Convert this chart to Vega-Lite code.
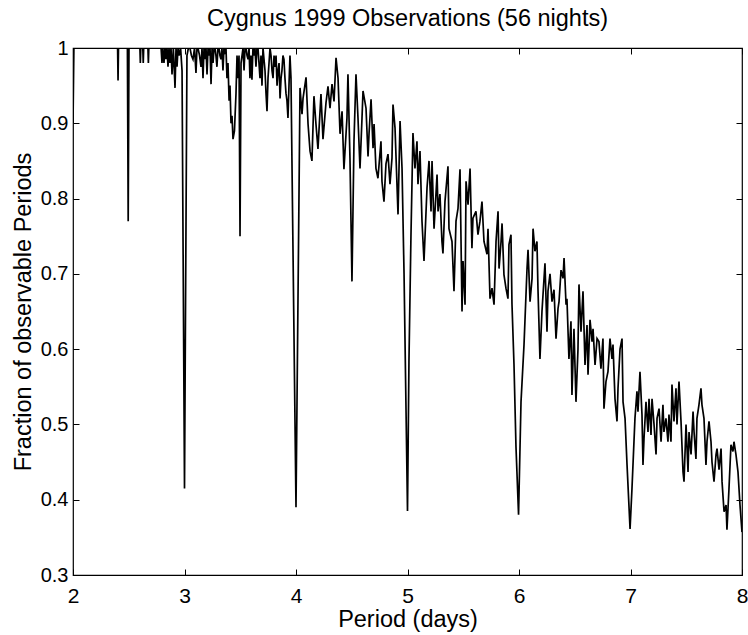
{
  "$schema": "https://vega.github.io/schema/vega-lite/v6.json",
  "width": 669,
  "height": 527,
  "autosize": {"type": "none"},
  "padding": {"left": 73, "top": 48, "right": 6, "bottom": 60},
  "background": "white",
  "config": {
    "view": {"stroke": "black", "strokeWidth": 1.2},
    "font": "Liberation Sans"
  },
  "title": {"text": "Cygnus 1999 Observations (56 nights)", "font": "Liberation Sans", "fontSize": 23.5, "fontWeight": "normal", "color": "black", "offset": 8},
  "data": {"values": [
    {"p":2.000,"f":0.90},{"p":2.008,"f":1.0},{"p":2.400,"f":1.0},{"p":2.404,"f":0.957},{"p":2.408,"f":1.0},
    {"p":2.488,"f":1.0},{"p":2.495,"f":0.77},{"p":2.502,"f":1.0},
    {"p":2.600,"f":1.0},{"p":2.604,"f":0.98},{"p":2.608,"f":1.0},
    {"p":2.626,"f":1.0},{"p":2.630,"f":0.98},{"p":2.634,"f":1.0},
    {"p":2.672,"f":1.0},{"p":2.676,"f":0.98},{"p":2.680,"f":1.0},
    {"p":2.790,"f":1.0},{"p":2.798,"f":0.98},{"p":2.806,"f":1.0},{"p":2.816,"f":0.98},{"p":2.825,"f":1.0},
    {"p":2.834,"f":0.985},{"p":2.843,"f":1.0},{"p":2.852,"f":0.975},{"p":2.861,"f":1.0},{"p":2.870,"f":0.98},
    {"p":2.879,"f":1.0},{"p":2.888,"f":0.965},{"p":2.900,"f":1.0},{"p":2.915,"f":0.947},{"p":2.924,"f":1.0},
    {"p":2.933,"f":0.975},{"p":2.942,"f":1.0},{"p":2.951,"f":0.99},{"p":2.965,"f":1.0},{"p":2.978,"f":0.97},
    {"p":3.000,"f":0.415},{"p":3.022,"f":0.99},{"p":3.035,"f":1.0},{"p":3.049,"f":1.0},{"p":3.062,"f":0.99},
    {"p":3.076,"f":0.985},{"p":3.090,"f":1.0},{"p":3.103,"f":0.967},{"p":3.112,"f":1.0},{"p":3.121,"f":1.0},
    {"p":3.135,"f":0.99},{"p":3.148,"f":0.975},{"p":3.157,"f":1.0},{"p":3.166,"f":0.96},{"p":3.175,"f":1.0},
    {"p":3.184,"f":0.985},{"p":3.193,"f":1.0},{"p":3.202,"f":0.965},{"p":3.211,"f":1.0},{"p":3.220,"f":0.99},
    {"p":3.229,"f":1.0},{"p":3.238,"f":0.952},{"p":3.247,"f":1.0},{"p":3.256,"f":0.98},{"p":3.265,"f":1.0},
    {"p":3.274,"f":1.0},{"p":3.282,"f":0.99},{"p":3.291,"f":0.975},{"p":3.300,"f":1.0},{"p":3.309,"f":1.0},
    {"p":3.318,"f":0.99},{"p":3.327,"f":0.985},{"p":3.336,"f":1.0},{"p":3.345,"f":0.97},{"p":3.354,"f":1.0},
    {"p":3.363,"f":0.995},{"p":3.372,"f":1.0},{"p":3.381,"f":0.96},{"p":3.390,"f":0.98},{"p":3.400,"f":0.93},
    {"p":3.408,"f":0.95},{"p":3.417,"f":0.90},{"p":3.426,"f":0.91},{"p":3.435,"f":0.879},{"p":3.448,"f":0.89},
    {"p":3.462,"f":0.94},{"p":3.471,"f":0.99},{"p":3.480,"f":0.96},{"p":3.489,"f":0.99},{"p":3.498,"f":0.75},
    {"p":3.507,"f":0.98},{"p":3.516,"f":0.99},{"p":3.525,"f":1.0},{"p":3.534,"f":0.97},{"p":3.543,"f":1.0},
    {"p":3.552,"f":1.0},{"p":3.561,"f":0.99},{"p":3.570,"f":0.985},{"p":3.579,"f":1.0},{"p":3.587,"f":0.96},
    {"p":3.596,"f":0.99},{"p":3.605,"f":0.958},{"p":3.614,"f":1.0},{"p":3.623,"f":0.99},{"p":3.632,"f":1.0},
    {"p":3.641,"f":0.975},{"p":3.650,"f":1.0},{"p":3.659,"f":1.0},{"p":3.668,"f":0.98},{"p":3.677,"f":0.96},
    {"p":3.686,"f":0.99},{"p":3.695,"f":0.95},{"p":3.704,"f":1.0},{"p":3.713,"f":0.985},{"p":3.722,"f":0.97},
    {"p":3.731,"f":0.94},{"p":3.740,"f":0.916},{"p":3.749,"f":0.96},{"p":3.758,"f":0.98},{"p":3.767,"f":1.0},
    {"p":3.776,"f":0.99},{"p":3.785,"f":0.97},{"p":3.794,"f":0.96},{"p":3.803,"f":0.99},{"p":3.812,"f":0.975},
    {"p":3.821,"f":0.99},{"p":3.830,"f":0.95},{"p":3.839,"f":0.97},{"p":3.848,"f":0.98},{"p":3.857,"f":0.933},
    {"p":3.866,"f":0.96},{"p":3.874,"f":0.97},{"p":3.883,"f":0.99},{"p":3.892,"f":0.985},{"p":3.901,"f":0.96},
    {"p":3.910,"f":0.94},{"p":3.919,"f":0.93},{"p":3.928,"f":0.907},{"p":3.937,"f":0.95},{"p":3.946,"f":0.99},
    {"p":3.955,"f":0.96},{"p":4.000,"f":0.39},{"p":4.036,"f":0.947},
    {"p":4.054,"f":0.912},{"p":4.063,"f":0.933},{"p":4.090,"f":0.961},{"p":4.108,"f":0.899},{"p":4.126,"f":0.863},
    {"p":4.143,"f":0.85},{"p":4.161,"f":0.936},{"p":4.179,"f":0.899},{"p":4.197,"f":0.866},{"p":4.224,"f":0.939},
    {"p":4.242,"f":0.879},{"p":4.269,"f":0.927},{"p":4.287,"f":0.949},{"p":4.305,"f":0.92},{"p":4.323,"f":0.952},
    {"p":4.341,"f":0.929},{"p":4.359,"f":0.987},{"p":4.377,"f":0.96},{"p":4.395,"f":0.886},{"p":4.413,"f":0.916},
    {"p":4.430,"f":0.839},{"p":4.457,"f":0.907},{"p":4.466,"f":0.965},{"p":4.484,"f":0.854},{"p":4.502,"f":0.69},
    {"p":4.520,"f":0.876},{"p":4.538,"f":0.965},{"p":4.556,"f":0.907},{"p":4.574,"f":0.84},{"p":4.592,"f":0.907},
    {"p":4.601,"f":0.943},{"p":4.628,"f":0.92},{"p":4.646,"f":0.856},{"p":4.655,"f":0.886},{"p":4.673,"f":0.932},
    {"p":4.691,"f":0.867},{"p":4.700,"f":0.899},{"p":4.717,"f":0.84},{"p":4.735,"f":0.827},{"p":4.762,"f":0.876},
    {"p":4.771,"f":0.823},{"p":4.789,"f":0.796},{"p":4.807,"f":0.846},{"p":4.825,"f":0.859},{"p":4.843,"f":0.819},
    {"p":4.861,"f":0.854},{"p":4.870,"f":0.925},{"p":4.888,"f":0.894},{"p":4.915,"f":0.779},{"p":4.933,"f":0.903},
    {"p":4.951,"f":0.84},{"p":4.969,"f":0.70},{"p":5.000,"f":0.385},{"p":5.013,"f":0.583},{"p":5.031,"f":0.75},
    {"p":5.049,"f":0.887},{"p":5.067,"f":0.84},{"p":5.085,"f":0.876},{"p":5.094,"f":0.819},{"p":5.112,"f":0.863},
    {"p":5.130,"f":0.77},{"p":5.148,"f":0.717},{"p":5.175,"f":0.814},{"p":5.193,"f":0.85},{"p":5.211,"f":0.783},
    {"p":5.220,"f":0.85},{"p":5.238,"f":0.76},{"p":5.265,"f":0.832},{"p":5.274,"f":0.783},{"p":5.291,"f":0.806},
    {"p":5.309,"f":0.743},{"p":5.318,"f":0.727},{"p":5.336,"f":0.796},{"p":5.363,"f":0.843},{"p":5.372,"f":0.76},
    {"p":5.399,"f":0.743},{"p":5.417,"f":0.677},{"p":5.435,"f":0.77},{"p":5.453,"f":0.787},{"p":5.471,"f":0.839},
    {"p":5.489,"f":0.65},{"p":5.498,"f":0.717},{"p":5.516,"f":0.659},{"p":5.525,"f":0.823},{"p":5.543,"f":0.792},
    {"p":5.561,"f":0.84},{"p":5.578,"f":0.734},{"p":5.587,"f":0.774},{"p":5.614,"f":0.783},{"p":5.632,"f":0.752},
    {"p":5.650,"f":0.77},{"p":5.668,"f":0.796},{"p":5.686,"f":0.743},{"p":5.713,"f":0.726},{"p":5.722,"f":0.76},
    {"p":5.740,"f":0.667},{"p":5.758,"f":0.681},{"p":5.776,"f":0.659},{"p":5.794,"f":0.743},{"p":5.812,"f":0.783},
    {"p":5.821,"f":0.707},{"p":5.839,"f":0.743},{"p":5.848,"f":0.767},{"p":5.865,"f":0.699},{"p":5.883,"f":0.681},
    {"p":5.901,"f":0.667},{"p":5.910,"f":0.739},{"p":5.928,"f":0.752},{"p":5.937,"f":0.66},{"p":5.955,"f":0.58},
    {"p":5.973,"f":0.47},{"p":5.996,"f":0.38},{"p":6.018,"f":0.53},{"p":6.045,"f":0.606},{"p":6.072,"f":0.707},
    {"p":6.081,"f":0.732},{"p":6.099,"f":0.663},{"p":6.117,"f":0.694},{"p":6.126,"f":0.76},{"p":6.143,"f":0.73},
    {"p":6.161,"f":0.743},{"p":6.170,"f":0.681},{"p":6.188,"f":0.587},{"p":6.206,"f":0.65},{"p":6.233,"f":0.714},
    {"p":6.251,"f":0.623},{"p":6.260,"f":0.677},{"p":6.278,"f":0.70},{"p":6.296,"f":0.663},{"p":6.314,"f":0.679},
    {"p":6.332,"f":0.614},{"p":6.350,"f":0.654},{"p":6.359,"f":0.663},{"p":6.377,"f":0.705},{"p":6.395,"f":0.694},
    {"p":6.404,"f":0.721},{"p":6.422,"f":0.659},{"p":6.430,"f":0.667},{"p":6.448,"f":0.587},{"p":6.466,"f":0.637},
    {"p":6.475,"f":0.539},{"p":6.493,"f":0.627},{"p":6.511,"f":0.53},{"p":6.529,"f":0.60},{"p":6.538,"f":0.686},
    {"p":6.556,"f":0.623},{"p":6.574,"f":0.677},{"p":6.592,"f":0.579},{"p":6.610,"f":0.632},{"p":6.619,"f":0.566},
    {"p":6.637,"f":0.639},{"p":6.655,"f":0.61},{"p":6.664,"f":0.627},{"p":6.682,"f":0.579},{"p":6.700,"f":0.614},
    {"p":6.717,"f":0.61},{"p":6.735,"f":0.574},{"p":6.753,"f":0.614},{"p":6.762,"f":0.521},{"p":6.780,"f":0.557},
    {"p":6.798,"f":0.57},{"p":6.816,"f":0.614},{"p":6.834,"f":0.587},{"p":6.843,"f":0.606},{"p":6.861,"f":0.534},
    {"p":6.879,"f":0.504},{"p":6.888,"f":0.548},{"p":6.906,"f":0.60},{"p":6.924,"f":0.614},{"p":6.933,"f":0.53},
    {"p":6.951,"f":0.508},{"p":6.969,"f":0.446},{"p":6.996,"f":0.361},{"p":7.013,"f":0.414},{"p":7.040,"f":0.508},
    {"p":7.058,"f":0.544},{"p":7.067,"f":0.517},{"p":7.085,"f":0.57},{"p":7.103,"f":0.513},{"p":7.112,"f":0.446},
    {"p":7.121,"f":0.481},{"p":7.139,"f":0.53},{"p":7.157,"f":0.49},{"p":7.166,"f":0.534},{"p":7.184,"f":0.486},
    {"p":7.193,"f":0.534},{"p":7.211,"f":0.50},{"p":7.229,"f":0.46},{"p":7.238,"f":0.508},{"p":7.256,"f":0.521},
    {"p":7.274,"f":0.477},{"p":7.291,"f":0.526},{"p":7.300,"f":0.49},{"p":7.318,"f":0.508},{"p":7.336,"f":0.477},
    {"p":7.345,"f":0.513},{"p":7.363,"f":0.477},{"p":7.372,"f":0.553},{"p":7.390,"f":0.504},{"p":7.408,"f":0.548},
    {"p":7.417,"f":0.50},{"p":7.435,"f":0.557},{"p":7.453,"f":0.504},{"p":7.471,"f":0.437},{"p":7.480,"f":0.424},
    {"p":7.498,"f":0.50},{"p":7.516,"f":0.437},{"p":7.525,"f":0.49},{"p":7.543,"f":0.46},{"p":7.561,"f":0.517},
    {"p":7.570,"f":0.49},{"p":7.587,"f":0.454},{"p":7.596,"f":0.508},{"p":7.614,"f":0.526},{"p":7.632,"f":0.548},
    {"p":7.641,"f":0.526},{"p":7.659,"f":0.508},{"p":7.677,"f":0.446},{"p":7.686,"f":0.477},{"p":7.704,"f":0.504},
    {"p":7.722,"f":0.477},{"p":7.731,"f":0.45},{"p":7.749,"f":0.424},{"p":7.767,"f":0.46},{"p":7.776,"f":0.468},
    {"p":7.794,"f":0.44},{"p":7.812,"f":0.468},{"p":7.821,"f":0.424},{"p":7.839,"f":0.384},{"p":7.857,"f":0.393},
    {"p":7.865,"f":0.36},{"p":7.883,"f":0.414},{"p":7.901,"f":0.473},{"p":7.919,"f":0.464},{"p":7.928,"f":0.477},
    {"p":7.946,"f":0.46},{"p":7.964,"f":0.437},{"p":7.982,"f":0.393},{"p":8.000,"f":0.357}
  ]},
  "layer": [
    {
      "mark": {"type": "line", "color": "black", "strokeWidth": 1.7, "clip": true},
      "encoding": {
        "x": {"field": "p", "type": "quantitative", "scale": {"domain": [2, 8], "nice": false, "zero": false},
          "axis": {"title": "Period (days)", "values": [2,3,4,5,6,7,8], "format": "d", "grid": false, "domain": false, "labelFlush": false,
            "tickColor": "black", "tickSize": -6, "labelPadding": 16, "labelFont": "Liberation Sans", "labelFontSize": 21, "labelColor": "black",
            "titleFont": "Liberation Sans", "titleFontSize": 23.5, "titleFontWeight": "normal", "titleColor": "black", "titlePadding": 1}},
        "y": {"field": "f", "type": "quantitative", "scale": {"domain": [0.3, 1], "nice": false, "zero": false},
          "axis": {"title": "Fraction of observable Periods", "values": [0.3,0.4,0.5,0.6,0.7,0.8,0.9,1], "format": "~g", "grid": false, "domain": false,
            "tickColor": "black", "tickSize": -6, "labelPadding": 11, "labelFont": "Liberation Sans", "labelFontSize": 20, "labelColor": "black",
            "titleFont": "Liberation Sans", "titleFontSize": 23.5, "titleFontWeight": "normal", "titleColor": "black", "titlePadding": 5}}
      }
    },
    {
      "mark": {"type": "line", "strokeOpacity": 0},
      "encoding": {
        "x": {"field": "p", "type": "quantitative", "scale": {"domain": [2, 8], "nice": false, "zero": false},
          "axis": {"orient": "top", "title": null, "values": [2,3,4,5,6,7,8], "labels": false, "grid": false, "domain": false, "tickColor": "black", "tickSize": -6}},
        "y": {"field": "f", "type": "quantitative", "scale": {"domain": [0.3, 1], "nice": false, "zero": false},
          "axis": {"orient": "right", "title": null, "values": [0.3,0.4,0.5,0.6,0.7,0.8,0.9,1], "labels": false, "grid": false, "domain": false, "tickColor": "black", "tickSize": -6}}
      }
    }
  ],
  "resolve": {"axis": {"x": "independent", "y": "independent"}}
}
